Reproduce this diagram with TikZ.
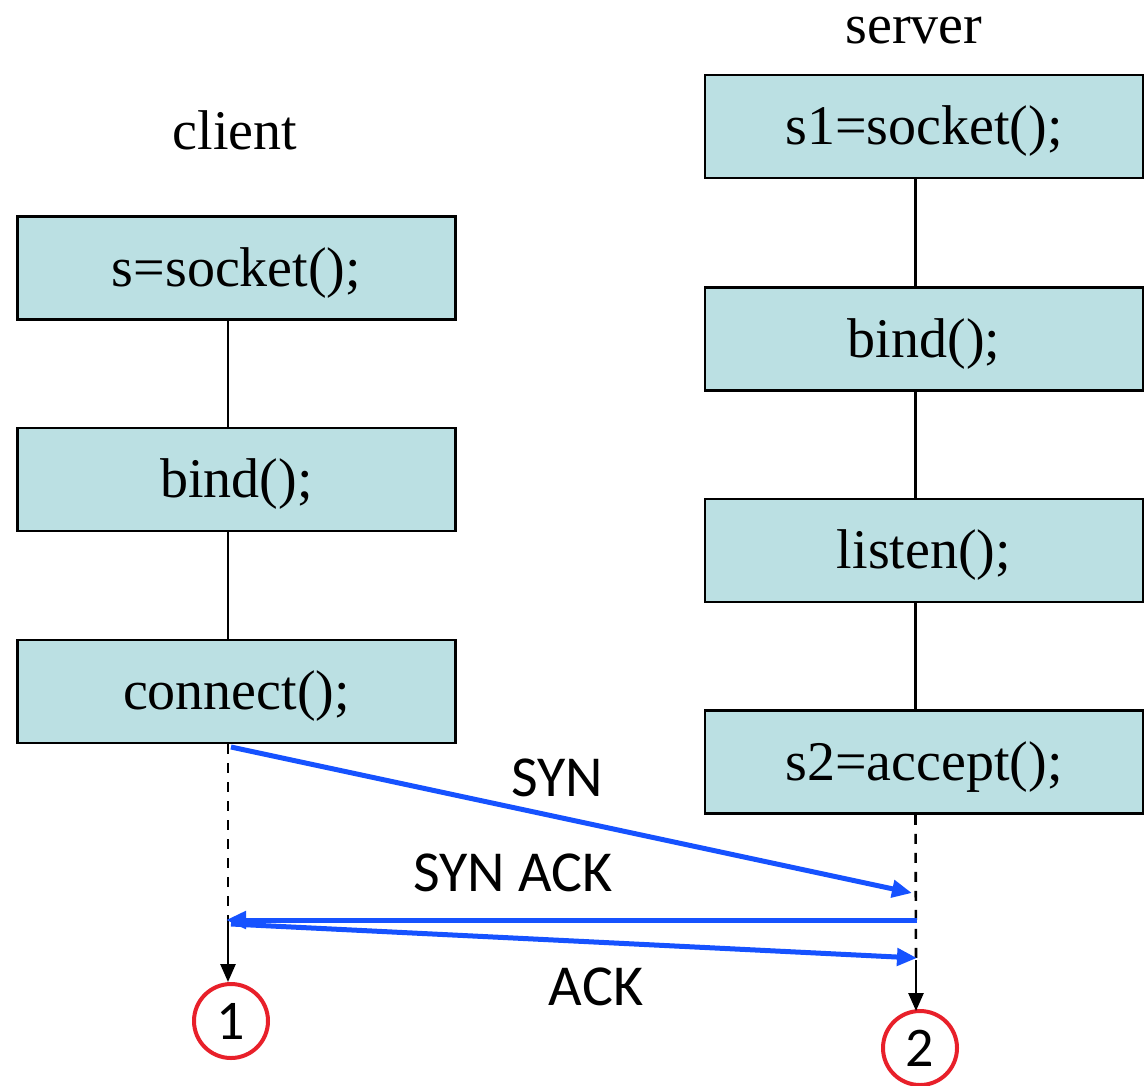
\documentclass[tikz,border=0pt]{standalone}
\usepackage{fontspec}
\setmainfont{Liberation Serif}
\newfontfamily\lblfont{Carlito}
\usetikzlibrary{arrows.meta}
\definecolor{boxfill}{RGB}{187,224,227}
\definecolor{msgblue}{RGB}{22,82,255}
\definecolor{markred}{RGB}{232,32,42}
\tikzset{
  callbox/.style={draw=black, line width=2.5pt, fill=boxfill, minimum width=438pt, minimum height=103pt, inner sep=0pt, text height=42pt, text depth=6pt, font=\fontsize{56}{64}\selectfont},
  title/.style={font=\fontsize{56}{64}\selectfont, inner sep=0pt},
  flow/.style={draw=black, line width=2.6pt},
  waitline/.style={draw=black, line width=2.6pt, dash pattern=on 10pt off 9pt},
  downarrow/.style={draw=black, line width=2.6pt, -{Triangle[length=18pt,width=15pt]}},
  msg/.style={draw=msgblue, line width=5pt, -{Triangle[length=20pt,width=17pt]}},
  msglabel/.style={font=\lblfont\fontsize{58}{66}\selectfont, inner sep=0pt},
  stepmark/.style={draw=markred, line width=4pt, circle, minimum size=74pt, inner sep=0pt, font=\lblfont\fontsize{56}{64}\selectfont}
}
\begin{document}
\begin{tikzpicture}[x=1pt,y=-1pt]
\useasboundingbox (0,0) rectangle (1147,1085);
% titles
\node[title] (client) at (235,130) {client};
\node[title] (server) at (914,31) {server};
% client boxes
\node[callbox] (cs) at (236.5,268) {s=socket();};
\node[callbox] (cb) at (236.5,479.5) {bind();};
\node[callbox] (cc) at (236.5,691.5) {connect();};
% server boxes
\node[callbox] (ss) at (924,126.5) {s1=socket();};
\node[callbox] (sb) at (924,339) {bind();};
\node[callbox] (sl) at (924,550.5) {listen();};
\node[callbox] (sa) at (924,762) {s2=accept();};
% flow lines
\draw[flow] ([xshift=-8.5pt]cs.south) -- ([xshift=-8.5pt]cb.north);
\draw[flow] ([xshift=-8.5pt]cb.south) -- ([xshift=-8.5pt]cc.north);
\draw[flow] ([xshift=-8.5pt]ss.south) -- ([xshift=-8.5pt]sb.north);
\draw[flow] ([xshift=-8.5pt]sb.south) -- ([xshift=-8.5pt]sl.north);
\draw[flow] ([xshift=-8.5pt]sl.south) -- ([xshift=-8.5pt]sa.north);
% wait points
\coordinate (cw) at (228,915);
\coordinate (sw) at (916,960);
\coordinate (synstart) at (231,747);
\coordinate (synend) at (912,893);
\coordinate (sastart) at (917,920);
\coordinate (saend) at (226,920);
\coordinate (ackstart) at (231,924);
\coordinate (ackend) at (917,958);
% markers
\node[stepmark] (m1) at (231,1021) {1};
\node[stepmark] (m2) at (920,1048) {2};
% dashed waits
\draw[waitline] ([xshift=-8.5pt]cc.south) -- (cw);
\draw[waitline] ([xshift=-8.5pt]sa.south) -- (sw);
\draw[downarrow] (cw) -- (m1.north -| cw);
\draw[downarrow] (sw) -- ([yshift=-2pt]m2.north -| sw);
% messages
\draw[msg] (synstart) -- (synend);
\draw[msg] (sastart) -- (saend);
\draw[msg] (ackstart) -- (ackend);
\node[msglabel] (lsyn) at (557,778) {SYN};
\node[msglabel] (lsynack) at (513,873) {SYN ACK};
\node[msglabel] (lack) at (596,987) {ACK};
\end{tikzpicture}
\end{document}
